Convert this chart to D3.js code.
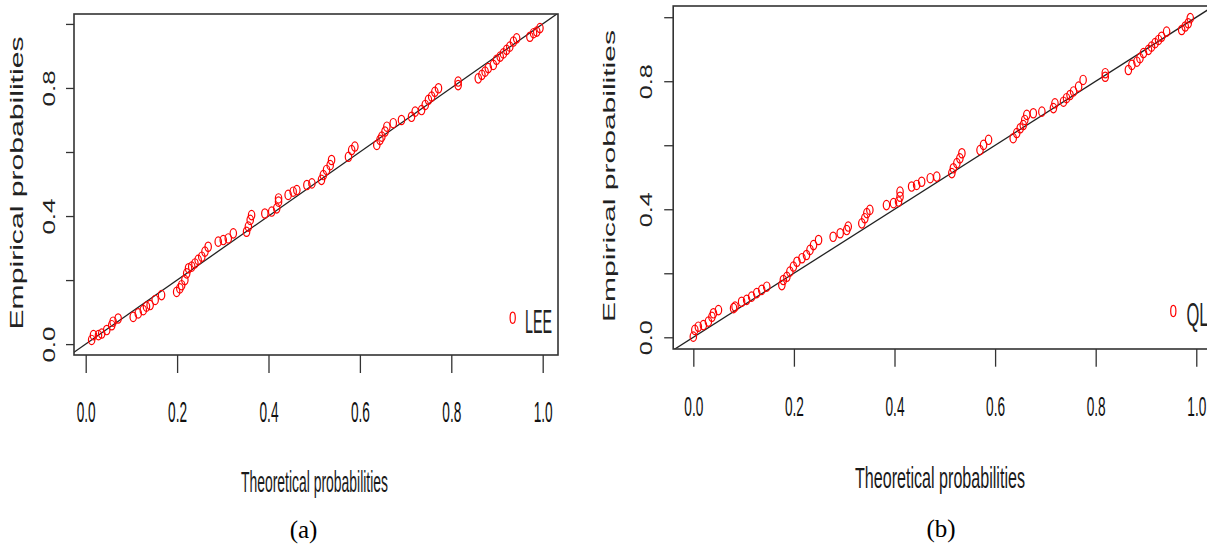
<!DOCTYPE html>
<html>
<head>
<meta charset="utf-8">
<script src="https://cdn.jsdelivr.net/npm/d3@7"></script>
<style>
  body { margin: 0; background: #fff; }
  svg { display: block; }
</style>
</head>
<body>
<svg id="chart" width="1207" height="548"></svg>
<script>
// theoretical vs empirical probabilities
const leeTheo = [0.013,0.017,0.028,0.035,0.046,0.057,0.060,0.071,0.104,0.115,0.126,0.133,0.141,0.152,0.166,
  0.199,0.206,0.210,0.217,0.221,0.225,0.232,0.239,0.246,0.254,0.261,0.268,0.290,0.301,0.312,0.323,
  0.352,0.356,0.360,0.363,0.392,0.407,0.418,0.422,0.422,0.443,0.454,0.462,0.484,0.495,
  0.516,0.520,0.527,0.535,0.538,0.575,0.582,0.589,0.637,0.644,0.648,0.655,0.659,0.673,0.691,
  0.713,0.721,0.735,0.743,0.750,0.757,0.764,0.772,0.815,0.815,
  0.859,0.867,0.874,0.881,0.892,0.899,0.907,0.914,0.921,0.928,0.936,0.943,0.972,0.980,0.987,0.994];
const leeEmp = [0.013,0.028,0.028,0.033,0.044,0.059,0.070,0.080,0.085,0.096,0.106,0.117,0.122,0.138,0.153,
  0.163,0.174,0.184,0.200,0.221,0.237,0.242,0.252,0.263,0.273,0.289,0.304,0.320,0.325,0.330,0.346,
  0.351,0.367,0.388,0.403,0.408,0.414,0.424,0.445,0.455,0.466,0.476,0.481,0.497,0.502,
  0.513,0.528,0.544,0.559,0.575,0.585,0.606,0.617,0.622,0.638,0.648,0.664,0.679,0.690,0.700,
  0.710,0.726,0.731,0.747,0.763,0.773,0.788,0.799,0.820,0.809,
  0.830,0.841,0.851,0.862,0.872,0.888,0.898,0.908,0.919,0.929,0.945,0.955,0.960,0.971,0.976,0.987];

const qlTheo = [0.000,0.003,0.010,0.020,0.030,0.037,0.040,0.050,0.080,0.083,0.096,0.106,0.116,0.126,0.136,0.146,
  0.176,0.179,0.186,0.192,0.199,0.206,0.216,0.225,0.232,0.239,0.249,0.278,0.292,0.305,0.308,
  0.335,0.341,0.345,0.351,0.384,0.398,0.408,0.411,0.411,0.434,0.444,0.454,0.471,0.484,
  0.514,0.517,0.524,0.530,0.534,0.570,0.577,0.587,0.636,0.643,0.650,0.656,0.659,0.663,0.676,0.693,
  0.716,0.719,0.736,0.742,0.749,0.756,0.766,0.775,0.819,0.819,
  0.865,0.872,0.882,0.888,0.895,0.905,0.911,0.918,0.925,0.931,0.941,0.971,0.978,0.984,0.988];
const qlEmp = [0.002,0.023,0.033,0.038,0.049,0.064,0.075,0.085,0.091,0.096,0.111,0.117,0.127,0.138,0.148,0.158,
  0.163,0.179,0.189,0.205,0.221,0.236,0.247,0.257,0.273,0.288,0.304,0.314,0.325,0.335,0.346,
  0.356,0.372,0.388,0.398,0.413,0.419,0.424,0.439,0.455,0.471,0.476,0.486,0.497,0.502,
  0.513,0.528,0.544,0.559,0.575,0.585,0.601,0.617,0.622,0.638,0.653,0.663,0.679,0.695,0.700,0.705,
  0.716,0.731,0.736,0.747,0.757,0.768,0.783,0.804,0.814,0.825,
  0.835,0.851,0.861,0.872,0.888,0.898,0.908,0.919,0.929,0.939,0.955,0.960,0.971,0.981,0.997];

const xTicks = [0, 0.2, 0.4, 0.6, 0.8, 1.0];
const yTicks = [0, 0.2, 0.4, 0.6, 0.8, 1.0];
const yLabelTicks = [0, 0.4, 0.8];
const legendNames = ["LEE", "QL"];
const captions = ["(a)", "(b)"];
const xTitle = "Theoretical probabilities";
const yTitle = "Empirical probabilities";

// layout of the two panels
const panels = [
  { theo: leeTheo, emp: leeEmp, name: legendNames[0], caption: captions[0],
    xDom: [-0.0256, 1.0335], xRange: [74, 558], yDom: [-0.034, 1.031], yRange: [355, 14],
    xTickLen: 18, yTickLen: 8, xLabBase: 422, xLabFs: 30, xLabLen: 19,
    yLabX: 55, yLabFs: 16.5, yLabLen: 36,
    yTitleX: 23, yTitleY: 183, yTitleLen: 293, yTitleFs: 18,
    xTitleX: 314.5, xTitleBase: 492, xTitleLen: 147, xTitleFs: 30,
    capX: 303.5, capBase: 538,
    legMark: [512.7, 317.7], legText: [525, 333], legLen: 27 },
  { theo: qlTheo, emp: qlEmp, name: legendNames[1], caption: captions[1],
    xDom: [-0.04, 1.04], xRange: [673.2, 1216.4], yDom: [-0.0366, 1.035], yRange: [349, 6],
    xTickLen: 17.7, yTickLen: 9, xLabBase: 416, xLabFs: 27, xLabLen: 19,
    yLabX: 652, yLabFs: 16, yLabLen: 35,
    yTitleX: 615, yTitleY: 176, yTitleLen: 292, yTitleFs: 17,
    xTitleX: 940, xTitleBase: 488, xTitleLen: 170, xTitleFs: 29,
    capX: 941, capBase: 537,
    legMark: [1173.3, 311], legText: [1186.5, 326], legLen: 22 }
];

const svg = d3.select("#chart");
const narrow = "'Liberation Sans Narrow', 'Liberation Sans', Arial, sans-serif";
const sans = "'Liberation Sans', Arial, sans-serif";

panels.forEach(function(p, i){
  let x = d3.scaleLinear().domain(p.xDom).range(p.xRange);
  let y = d3.scaleLinear().domain(p.yDom).range(p.yRange);
  let g = svg.append("g");

  // clip for the reference line
  g.append("clipPath").attr("id", "clip" + i)
    .append("rect")
      .attr("x", p.xRange[0]).attr("y", p.yRange[1])
      .attr("width", p.xRange[1] - p.xRange[0])
      .attr("height", p.yRange[0] - p.yRange[1]);

  // y = x line
  let line = d3.line().x(d => x(d)).y(d => y(d));
  g.append("path")
    .datum([-0.2, 1.2])
    .attr("clip-path", "url(#clip" + i + ")")
    .attr("d", line)
    .attr("fill", "none")
    .attr("stroke", "#222")
    .attr("stroke-width", 1.3);

  // points
  g.append("g").selectAll("ellipse")
    .data(p.theo.map((t, k) => [t, p.emp[k]]))
    .enter().append("ellipse")
      .attr("cx", d => x(d[0]))
      .attr("cy", d => y(d[1]))
      .attr("rx", 3.2).attr("ry", 4.7)
      .attr("fill", "none")
      .attr("stroke", "#ff0000")
      .attr("stroke-width", 1.2);

  // box
  g.append("rect")
    .attr("x", p.xRange[0]).attr("y", p.yRange[1])
    .attr("width", p.xRange[1] - p.xRange[0])
    .attr("height", p.yRange[0] - p.yRange[1])
    .attr("fill", "none")
    .attr("stroke", "#333")
    .attr("stroke-width", 1.6);

  // x axis
  let xaxis = g.append("g")
    .attr("transform", "translate(0," + p.yRange[0] + ")")
    .call(d3.axisBottom(x).tickValues(xTicks).tickSize(p.xTickLen).tickFormat(d3.format(".1f")));
  xaxis.select(".domain").remove();
  xaxis.selectAll(".tick line").attr("stroke", "#333").attr("stroke-width", 1.3);
  xaxis.selectAll(".tick text")
    .attr("y", p.xLabBase - p.yRange[0])
    .attr("dy", null)
    .attr("fill", "#111")
    .attr("font-family", narrow)
    .attr("font-size", p.xLabFs)
    .attr("textLength", p.xLabLen)
    .attr("lengthAdjust", "spacingAndGlyphs");

  // y axis ticks
  let yaxis = g.append("g")
    .attr("transform", "translate(" + p.xRange[0] + ",0)")
    .call(d3.axisLeft(y).tickValues(yTicks).tickSize(p.yTickLen).tickFormat(""));
  yaxis.select(".domain").remove();
  yaxis.selectAll(".tick line").attr("stroke", "#333").attr("stroke-width", 1.3);

  // y labels, rotated
  let ylab = g.append("g")
    .attr("transform", "translate(" + p.yLabX + ",0)")
    .call(d3.axisLeft(y).tickValues(yLabelTicks).tickSize(0).tickFormat(d3.format(".1f")));
  ylab.select(".domain").remove();
  ylab.selectAll(".tick text")
    .attr("x", null).attr("dy", null)
    .attr("transform", "rotate(-90)")
    .attr("text-anchor", "middle")
    .attr("fill", "#222")
    .attr("font-family", sans)
    .attr("font-size", p.yLabFs)
    .attr("textLength", p.yLabLen)
    .attr("lengthAdjust", "spacingAndGlyphs");

  // titles
  g.append("text")
    .attr("transform", "translate(" + p.yTitleX + "," + p.yTitleY + ") rotate(-90)")
    .attr("text-anchor", "middle")
    .attr("font-family", sans)
    .attr("font-size", p.yTitleFs)
    .attr("fill", "#222")
    .attr("textLength", p.yTitleLen)
    .attr("lengthAdjust", "spacingAndGlyphs")
    .text(yTitle);

  g.append("text")
    .attr("x", p.xTitleX).attr("y", p.xTitleBase)
    .attr("text-anchor", "middle")
    .attr("font-family", narrow)
    .attr("font-size", p.xTitleFs)
    .attr("fill", "#1a1a1a")
    .attr("textLength", p.xTitleLen)
    .attr("lengthAdjust", "spacingAndGlyphs")
    .text(xTitle);

  g.append("text")
    .attr("x", p.capX).attr("y", p.capBase)
    .attr("text-anchor", "middle")
    .attr("font-family", "'Liberation Serif', 'Times New Roman', serif")
    .attr("font-size", 25)
    .attr("fill", "#000")
    .text(p.caption);

  // legend
  g.append("ellipse")
    .attr("cx", p.legMark[0]).attr("cy", p.legMark[1])
    .attr("rx", 2.6).attr("ry", 5.6)
    .attr("fill", "none")
    .attr("stroke", "#ff0000")
    .attr("stroke-width", 1.2);
  g.append("text")
    .attr("x", p.legText[0]).attr("y", p.legText[1])
    .attr("font-family", narrow)
    .attr("font-size", 34)
    .attr("fill", "#222")
    .attr("textLength", p.legLen)
    .attr("lengthAdjust", "spacingAndGlyphs")
    .text(p.name);
});
</script>
</body>
</html>
